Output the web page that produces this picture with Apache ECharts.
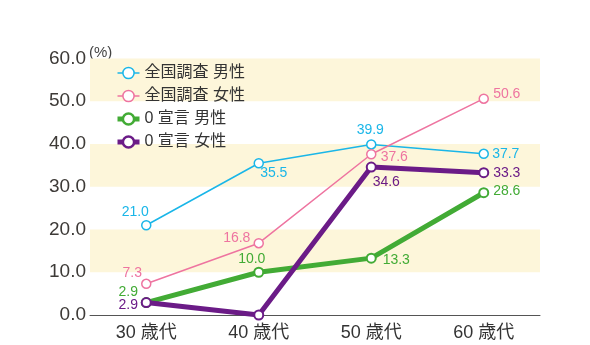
<!DOCTYPE html>
<html><head><meta charset="utf-8">
<script src="https://cdn.jsdelivr.net/npm/echarts@6/dist/echarts.min.js"></script>
<style>html,body{margin:0;padding:0;background:#fff}#c{width:590px;height:345px}</style>
</head><body><div id="c"></div>
<script>
var categories = ['30 歳代', '40 歳代', '50 歳代', '60 歳代'];
var yTicks = [0, 10, 20, 30, 40, 50, 60];
var natMale = [21.0, 35.5, 39.9, 37.7];
var natFemale = [7.3, 16.8, 37.6, 50.6];
var zeroMale = [2.9, 10.0, 13.3, 28.6];
var zeroFemale = [2.9, 0.0, 34.6, 33.3];
var seriesNames = ['全国調査 男性', '全国調査 女性', '0 宣言 男性', '0 宣言 女性'];
var colors = ['#1ab6e8', '#ee74a0', '#42ab35', '#6b1b87'];
// label offsets (px) relative to point; null = no label
var offNatMale = [[-11,-13],[15,10],[-1,-14],[22,0]];
var offNatFemale = [[-14,-11],[-22,-5],[23,3],[23,-5]];
var offZeroMale = [[-18,-10],[-7,-13],[25,2],[23,-2]];
var offZeroFemale = [[-18,3],null,[15,15],[23,0]];

var NUMFONT = '"Liberation Sans", "Noto Sans CJK JP", sans-serif';
var FONT = '"Liberation Sans", "Noto Sans CJK JP", sans-serif';

function mkData(vals, offs, color) {
  return vals.map(function (v, i) {
    var o = offs[i];
    return {
      value: v,
      label: o ? {show: true, position: 'inside', offset: o, color: color, fontSize: 14, fontFamily: NUMFONT,
        formatter: function (p) { return p.value.toFixed(1); }} : {show: false}
    };
  });
}

function mkSeries(i, vals, offs, width, symSize, symBorder) {
  return {
    name: seriesNames[i], type: 'line', data: mkData(vals, offs, colors[i]),
    symbol: 'circle', symbolSize: symSize, showAllSymbol: true,
    lineStyle: {color: colors[i], width: width},
    itemStyle: {color: '#fff', borderColor: colors[i], borderWidth: symBorder},
    emphasis: {disabled: true}, animation: false, z: 2 + i
  };
}

var chart = echarts.init(document.getElementById('c'));
chart.setOption({
  animation: false,
  color: colors,
  grid: {left: 90, right: 50, top: 58.5, bottom: 30},
  legend: {
    left: 110, top: 60, orient: 'vertical', itemWidth: 22, itemHeight: 14, itemGap: 7,
    data: seriesNames.map(function (n, i) {
      return {name: n, itemStyle: {color: '#fff', borderColor: colors[i], borderWidth: i < 2 ? 1.5 : 2.5},
        lineStyle: {color: colors[i], width: i < 2 ? 1.5 : 5}};
    }),
    textStyle: {fontSize: 16, color: '#333', fontFamily: FONT}
  },
  graphic: [{type: 'text', left: 89, top: 45, style: {text: '(%)', fontSize: 15, fill: '#444', fontFamily: FONT}}],
  xAxis: {
    type: 'category', data: categories, boundaryGap: true,
    axisLine: {lineStyle: {color: '#555', width: 1}}, axisTick: {show: false},
    axisLabel: {fontSize: 18, color: '#333', margin: 9, fontFamily: FONT}
  },
  yAxis: {
    type: 'value', min: yTicks[0], max: yTicks[yTicks.length - 1], interval: 10,
    axisLine: {show: false}, axisTick: {show: false}, splitLine: {show: false},
    splitArea: {show: true, areaStyle: {color: ['rgba(255,255,255,0)', '#fdf6da']}},
    axisLabel: {fontSize: 19, color: '#3d3a37', margin: 4, padding: [4, 0, 0, 0], fontFamily: NUMFONT,
      formatter: function (v) { return v.toFixed(1); }}
  },
  series: [
    mkSeries(0, natMale, offNatMale, 1.5, 9, 1.5),
    mkSeries(1, natFemale, offNatFemale, 1.5, 9, 1.5),
    mkSeries(2, zeroMale, offZeroMale, 5, 9, 2),
    mkSeries(3, zeroFemale, offZeroFemale, 5, 9, 2)
  ]
});
</script></body></html>
